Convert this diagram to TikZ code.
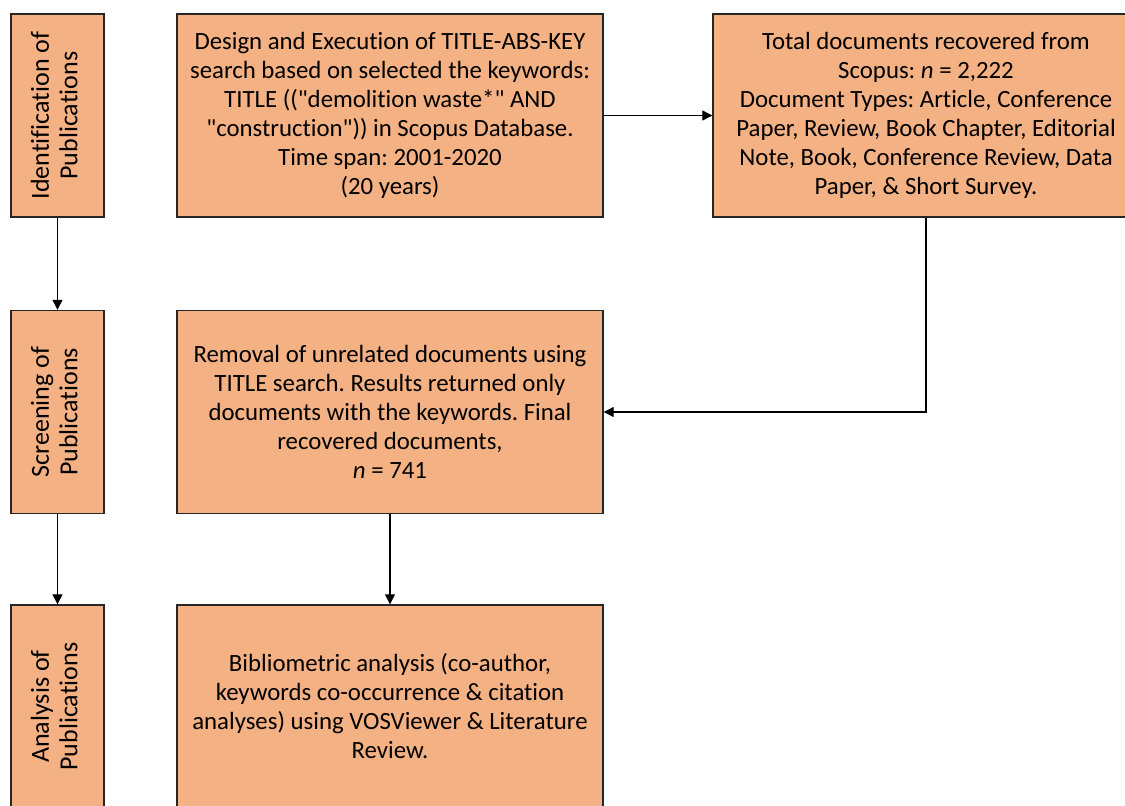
\documentclass[tikz,border=0pt]{standalone}
\usepackage{fontspec}
\setmainfont{Carlito}[Ligatures={TeXOff,NoCommon}]
\usetikzlibrary{positioning,arrows.meta}
\definecolor{boxfill}{HTML}{F4B183}
\frenchspacing

\begin{document}
\begin{tikzpicture}[
  x=0.5pt, y=-0.5pt,
  >={Triangle[length=5pt,width=5pt]},
  every node/.style={font=\fontsize{12.4}{14.5}\selectfont},
  stagebox/.style={draw=black!85, line width=0.7pt, fill=boxfill, minimum width=46.5pt, minimum height=101.5pt, inner sep=0pt, font=\fontsize{13}{14.2}\selectfont},
  taskbox/.style={draw=black!85, line width=0.7pt, fill=boxfill, minimum width=213pt, minimum height=101.5pt, align=center, inner sep=0pt},
  arrow/.style={->, line width=0.6pt}
]
\useasboundingbox (0,0) rectangle (1125,805);
\clip (0,0) rectangle (1125,805);

% Stages on the left
\node[stagebox] (ident) at (57.5,115.5) {\rotatebox{90}{\begin{tabular}{@{}c@{}}Identification of\\Publications\end{tabular}}};
\node[stagebox] (screen) at (57.5,412) {\rotatebox{90}{\begin{tabular}{@{}c@{}}Screening of\\Publications\end{tabular}}};
\node[stagebox] (analysis) at (57.5,706.5) {\rotatebox{90}{\begin{tabular}{@{}c@{}}Analysis of\\Publications\end{tabular}}};

% Steps
\node[taskbox] (design) at (390,115.5) {Design and Execution of TITLE-ABS-KEY\\search based on selected the keywords:\\TITLE (("demolition waste*" AND\\"construction")) in Scopus Database.\\Time span: 2001-2020\\(20 years)};
\node[taskbox] (total) at (926,115.5) {Total documents recovered from\\Scopus: \textit{n} = 2,222\\Document Types: Article, Conference\\Paper, Review, Book Chapter, Editorial\\Note, Book, Conference Review, Data\\Paper, \& Short Survey.};
\node[taskbox] (removal) at (390,412) {Removal of unrelated documents using\\TITLE search. Results returned only\\documents with the keywords. Final\\recovered documents,\\\textit{n} = 741};
\node[taskbox] (biblio) at (390,706.5) {Bibliometric analysis (co-author,\\keywords co-occurrence \& citation\\analyses) using VOSViewer \& Literature\\Review.};

% Connectors
\draw[arrow] (ident) -- (screen);
\draw[arrow] (screen) -- (analysis);
\draw[arrow] (design) -- (total);
\draw[arrow] (total.south) |- (removal.east);
\draw[arrow] (removal) -- (biblio);

\end{tikzpicture}
\end{document}
